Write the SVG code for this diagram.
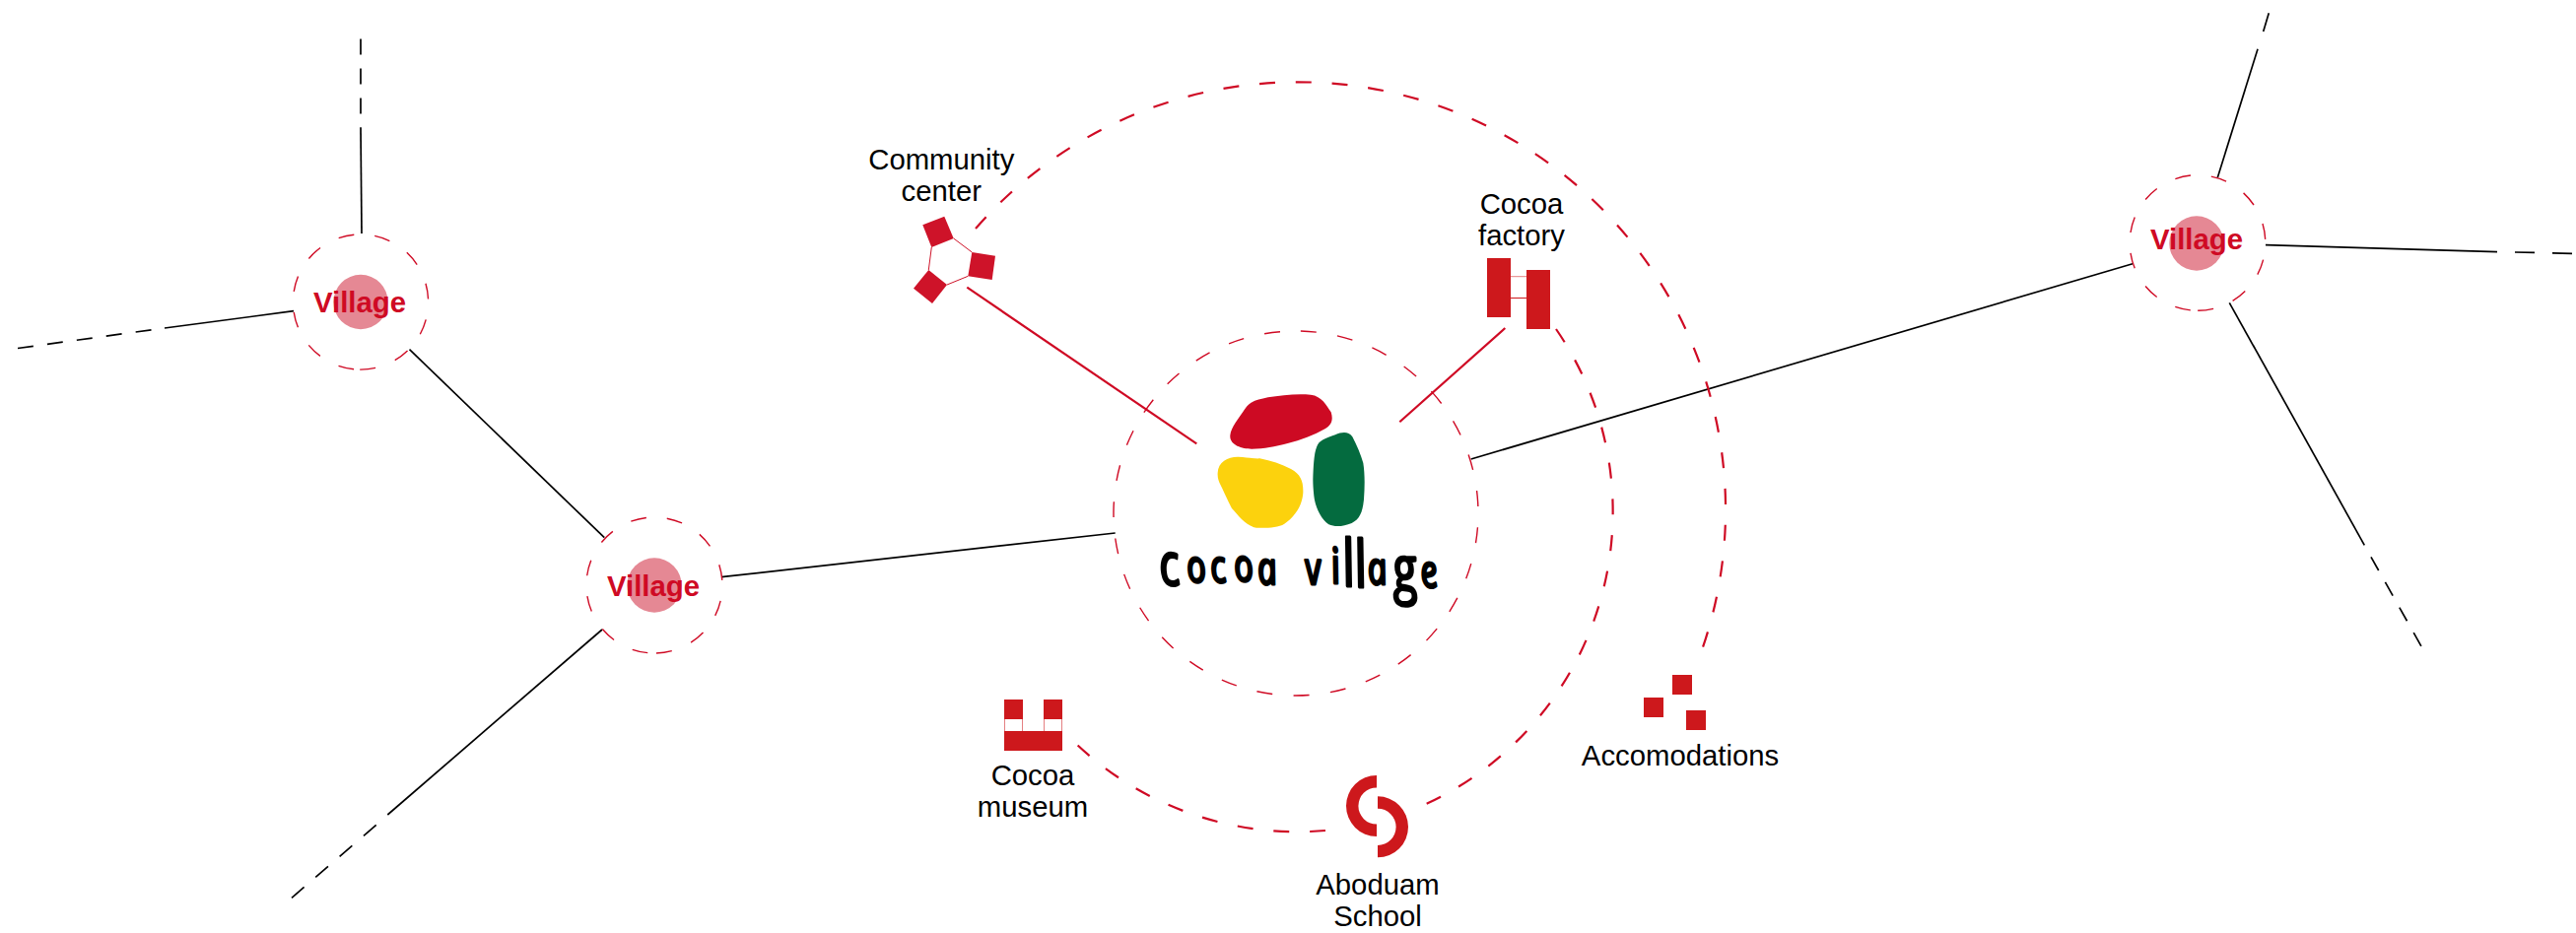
<svg xmlns="http://www.w3.org/2000/svg" width="2614" height="947" viewBox="0 0 2614 947">
<style>
text{font-family:"Liberation Sans",Arial,sans-serif}
.lbl{font-size:29.3px;fill:#000;text-anchor:middle}
.vil{font-size:29.4px;font-weight:700;fill:#cf0a24;text-anchor:middle}
.ring{fill:none;stroke:#cf0a24;stroke-width:1.4;stroke-dasharray:16 21.1}
.dot{fill:#e58894}
.k{stroke:#000;stroke-width:1.7;fill:none}
.r{stroke:#cf0a24;stroke-width:2.2;fill:none}
.arc{fill:none;stroke:#cf0a24;stroke-width:2.2;stroke-dasharray:16 20.8}
.ic{fill:#cd181c}
.ic2{fill:#ce1329}
.thin{stroke:#ce1329;stroke-width:1;fill:none}
.faint{stroke:#cd181c;stroke-width:1;opacity:.55;fill:none}
</style>
<rect width="2614" height="947" fill="#fff"/>
<g id="connectors">
<line class="k" x1="367" y1="237" x2="366" y2="129.3"/>
<line class="k" x1="366" y1="115.4" x2="366" y2="39" stroke-dasharray="16 14"/>
<line class="k" x1="298" y1="315.7" x2="167" y2="333"/>
<line class="k" x1="153.5" y1="334.8" x2="17.5" y2="353.6" stroke-dasharray="16 14.2"/>
<line class="k" x1="415.5" y1="354.6" x2="613.3" y2="545.7"/>
<line class="k" x1="611" y1="639" x2="393.3" y2="827"/>
<line class="k" x1="381.7" y1="837.3" x2="296" y2="911.3" stroke-dasharray="16.8 15.4"/>
<line class="k" x1="732" y1="585.7" x2="1131.7" y2="541"/>
<line class="k" x1="1492.7" y1="466" x2="2164" y2="267.7"/>
<line class="k" x1="2250.3" y1="180.3" x2="2291" y2="49.7"/>
<line class="k" x1="2296.7" y1="32" x2="2302.3" y2="13.3"/>
<line class="k" x1="2299" y1="248.7" x2="2534" y2="255.7"/>
<line class="k" x1="2552" y1="256" x2="2610" y2="257.3" stroke-dasharray="20 18"/>
<line class="k" x1="2262.3" y1="307.3" x2="2399.3" y2="553.3"/>
<line class="k" x1="2406" y1="565.3" x2="2457" y2="656" stroke-dasharray="15.7 13.7"/>
<line class="r" x1="981.3" y1="291.7" x2="1214.3" y2="450.3"/>
<line class="r" x1="1527.3" y1="333" x2="1420.3" y2="428.3"/>
<path class="arc" d="M990 232 A434 434 0 0 1 1721 676"/>
<path class="arc" d="M1579 334 A327 327 0 0 1 1443 818"/>
<path class="arc" d="M1345 843 A327 327 0 0 1 1091 754"/>
</g>
<g id="village-1">
<circle class="ring" cx="366" cy="306.5" r="68.6" transform="rotate(95.8 366 306.5)"/>
<circle class="dot" cx="366" cy="306.5" r="27.7"/>
<text class="vil" x="365" y="316.5">Village</text>
</g>
<g id="village-2">
<circle class="ring" cx="664" cy="594" r="69" transform="rotate(95.6 664 594)"/>
<circle class="dot" cx="664" cy="594" r="27.7"/>
<text class="vil" x="663" y="605">Village</text>
</g>
<g id="village-3">
<circle class="ring" cx="2230" cy="246.5" r="68.8" transform="rotate(96 2230 246.5)"/>
<circle class="dot" cx="2229" cy="247" r="27.7"/>
<text class="vil" x="2229" y="253">Village</text>
</g>
<g id="cocoa-village">
<circle cx="1315" cy="521" r="185" fill="none" stroke="#cf0a24" stroke-width="1.4" stroke-dasharray="16 21.5" transform="rotate(-88.5 1315 521)"/>
<g transform="translate(1100 300) scale(.33333)">
<path fill="#cd0a23" d="M445 425 C448 400 470 375 490 345 C505 322 525 318 560 310 C600 303 650 298 690 302 C725 306 738 335 752 355 C760 380 752 395 735 405 C700 425 660 440 620 450 C580 460 550 467 510 467 C480 467 442 455 445 425Z"/>
<path fill="#fcd20d" d="M407 540 C408 505 440 490 470 491 C495 492 515 497 535 496 C570 503 600 513 630 528 C660 545 668 565 667 600 C665 640 640 675 610 695 C590 708 550 708 525 707 C495 703 470 670 450 648 C440 630 425 595 415 575 C410 565 406 555 407 540Z"/>
<path fill="#046b3f" d="M697 560 C698 525 700 480 708 462 C715 440 735 435 765 424 C785 415 805 413 817 430 C830 455 843 485 850 510 C855 540 855 580 852 620 C848 660 840 680 815 693 C790 703 765 706 745 697 C720 680 703 640 700 610 C698 590 697 575 697 560Z"/>
</g>
<text transform="translate(1179 592) skewX(10) scale(.75 1)" x="0 37 69 101 132 180 197 232 248 264 281 314 352" y="2 -1 -1 -2 1 0 1 0 3 4 1 8 4" style="font-family:'Open Sans','Noto Sans',sans-serif;font-style:italic;font-size:46px;fill:#000;stroke:#000;stroke-width:3;stroke-linejoin:round"><tspan font-size="60">c</tspan>ocoa v<tspan font-size="50">i</tspan><tspan font-size="66">ll</tspan>a<tspan font-size="64">g</tspan>e</text>
</g>
<g id="community-center">
<polygon class="ic2" points="936.3,228.3 958.3,219.7 967.7,242 945.3,251"/>
<polygon class="ic2" points="986.3,256 1010,259.7 1006.7,284 982.3,280.3"/>
<polygon class="ic2" points="942.3,274 961,289 946,308 927,292.7"/>
<path class="thin" d="M967.7 242L986.3 256M945.3 251L942.3 274M961 289L982.3 280.3"/>
<text class="lbl" x="955.3" y="171.7">Community</text>
<text class="lbl" x="955.3" y="203.5">center</text>
</g>
<g id="cocoa-factory">
<rect class="ic" x="1509" y="262" width="24" height="60"/>
<rect class="ic" x="1549" y="274" width="24" height="60"/>
<path class="faint" d="M1533 280.7H1549"/>
<path style="stroke:#cd181c;stroke-width:1;fill:none" d="M1533 302.5H1549"/>
<text class="lbl" x="1544" y="216.7">Cocoa</text>
<text class="lbl" x="1544" y="249.3">factory</text>
</g>
<g id="cocoa-museum">
<rect class="ic" x="1019" y="710" width="19" height="20"/>
<rect class="ic" x="1059" y="710" width="19" height="20"/>
<rect class="ic" x="1019" y="742" width="59" height="20"/>
<path class="faint" d="M1019.5 730V742M1037.5 730V742M1059.5 730V742M1077.5 730V742"/>
<text class="lbl" x="1048" y="796.7">Cocoa</text>
<text class="lbl" x="1048" y="828.7">museum</text>
</g>
<g id="aboduam-school">
<path class="ic" d="M1397 787 A31 31 0 0 0 1397 849 V836.6 A18.6 18.6 0 0 1 1397 799.4Z"/>
<path class="ic" d="M1398 808.3 A31 31 0 0 1 1398 870.3 V857.9 A18.6 18.6 0 0 0 1398 820.7Z"/>
<text class="lbl" x="1398" y="908">Aboduam</text>
<text class="lbl" x="1398" y="940">School</text>
</g>
<g id="accomodations">
<rect class="ic" x="1697" y="685" width="20" height="20"/>
<rect class="ic" x="1668" y="708" width="20" height="20"/>
<rect class="ic" x="1711" y="721" width="20" height="20"/>
<text class="lbl" x="1705" y="777.3">Accomodations</text>
</g>
</svg>
